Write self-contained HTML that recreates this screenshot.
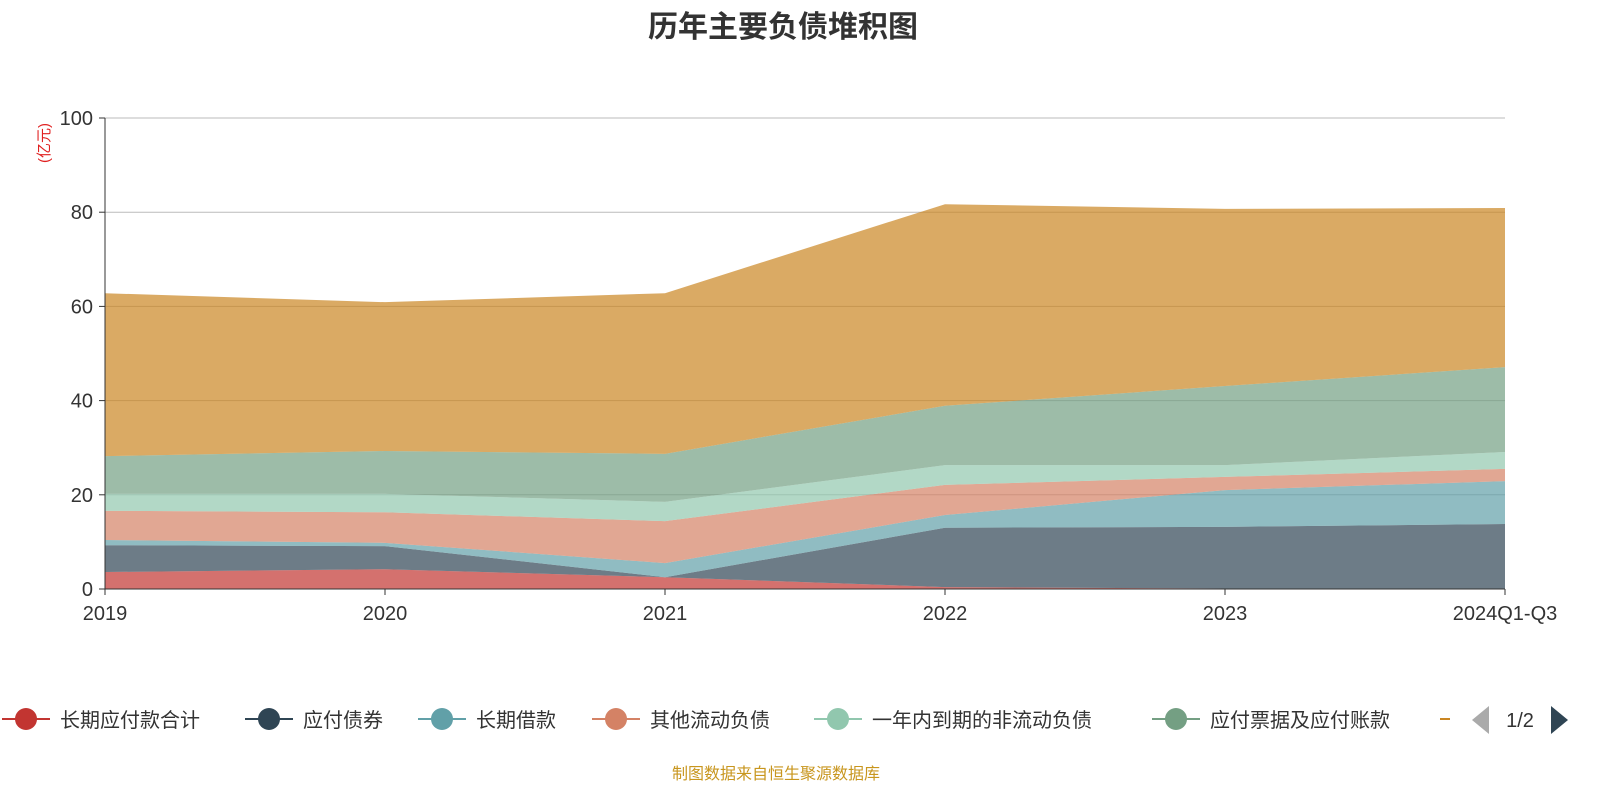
<!DOCTYPE html>
<html><head><meta charset="utf-8"><style>
body{margin:0;background:#fff;width:1600px;height:800px;overflow:hidden;font-family:"Liberation Sans","Noto Sans CJK SC",sans-serif}
</style></head><body>
<svg id="c" width="1600" height="800" xmlns="http://www.w3.org/2000/svg">
<text x="783" y="37" text-anchor="middle" font-size="30" font-weight="bold" fill="#333" font-family="Liberation Sans, Noto Sans CJK SC, sans-serif">历年主要负债堆积图</text>
<text x="49" y="143" font-size="15" fill="#e02020" text-anchor="middle" transform="rotate(-90 49 143)" font-family="Liberation Sans, Noto Sans CJK SC, sans-serif">(亿元)</text>
<g id="grid"></g><g id="areas"></g><g id="axes"></g><g id="legend"></g>
<text x="776" y="779" text-anchor="middle" font-size="16" fill="#c8961e" font-family="Liberation Sans, Noto Sans CJK SC, sans-serif">制图数据来自恒生聚源数据库</text>
</svg>
<script>
const categories=["2019","2020","2021","2022","2023","2024Q1-Q3"];
const seriesNames=["长期应付款合计","应付债券","长期借款","其他流动负债","一年内到期的非流动负债","应付票据及应付账款","应付账款"];
const s0=[3.6,4.2,2.5,0.4,0.1,0];
const s1=[5.7,4.9,0,12.6,13.1,13.8];
const s2=[1.1,0.7,3.0,2.7,7.8,9.1];
const s3=[6.2,6.5,8.9,6.4,2.8,2.6];
const s4=[3.6,3.9,4.1,4.2,2.5,3.6];
const s5=[8.0,9.1,10.2,12.6,16.8,18.0];
const s6=[34.6,31.6,34.1,42.8,37.6,33.8];
const yTicks=[0,20,40,60,80,100];
const colors=["#c23531","#2f4554","#61a0a8","#d48265","#91c7ae","#749f83","#ca8622"];
const NS="http://www.w3.org/2000/svg";
const X0=105,X1=1505,Y0=589,Y1=118;
const xs=i=>X0+(X1-X0)*i/(categories.length-1);
const ys=v=>Y0-(Y0-Y1)*v/100;
function mk(t,a,p){const e=document.createElementNS(NS,t);for(const k in a)e.setAttribute(k,a[k]);p.appendChild(e);return e;}
const grid=document.getElementById('grid'),areas=document.getElementById('areas'),axes=document.getElementById('axes'),legend=document.getElementById('legend');
yTicks.forEach(v=>{
 if(v>0){const l=mk('line',{x1:X0,x2:X1,y1:ys(v),y2:ys(v),stroke:'#bbb','stroke-width':1},grid);
 
 }
 const t=mk('text',{x:X0-12,y:ys(v)+7,'text-anchor':'end','font-size':20,fill:'#333'},axes);t.textContent=v;
 
 
 mk('line',{x1:X0-6,x2:X0,y1:ys(v),y2:ys(v),stroke:'#333'},axes);
});
const series=[s0,s1,s2,s3,s4,s5,s6];
let base=categories.map(()=>0);
series.forEach((s,k)=>{
 const top=s.map((v,i)=>base[i]+v);
 let d='M'+top.map((v,i)=>xs(i)+','+ys(v)).join('L');
 for(let i=categories.length-1;i>=0;i--)d+='L'+xs(i)+','+ys(base[i]);
 const p=mk('path',{d:d+'Z',fill:colors[k],'fill-opacity':0.7},areas);
 
 
 base=top;
});
mk('line',{x1:X0,x2:X0,y1:Y1,y2:Y0,stroke:'#333'},axes);
mk('line',{x1:X0,x2:X1,y1:Y0,y2:Y0,stroke:'#333'},axes);
categories.forEach((c,i)=>{
 mk('line',{x1:xs(i),x2:xs(i),y1:Y0,y2:Y0+6,stroke:'#333'},axes);
 const t=mk('text',{x:xs(i),y:620,'text-anchor':'middle','font-size':20,fill:'#333'},axes);t.textContent=c;
 
 
});
const lx=[2,245,418,592,814,1152,1440];
seriesNames.forEach((n,k)=>{
 const g=mk('g',{},legend);
 
 
 const x=lx[k];
 if(k<6){
 mk('line',{x1:x,x2:x+48,y1:719,y2:719,stroke:colors[k],'stroke-width':2},g);
 mk('circle',{cx:x+24,cy:719,r:11,fill:colors[k]},g);
 const t=mk('text',{x:x+58,y:727,'font-size':20,fill:'#333'},g);t.textContent=n;
 }else{
 mk('line',{x1:x,x2:x+10,y1:719,y2:719,stroke:colors[k],'stroke-width':2},g);
 }
});
const pg=mk('g',{},legend);


mk('path',{d:'M1489,706L1472,720L1489,734Z',fill:'#aaa'},pg);
const pt=mk('text',{x:1520,y:727,'text-anchor':'middle','font-size':20,fill:'#333'},pg);pt.textContent='1/2';
mk('path',{d:'M1551,706L1568,720L1551,734Z',fill:'#2f4554'},pg);
</script>
</body></html>
